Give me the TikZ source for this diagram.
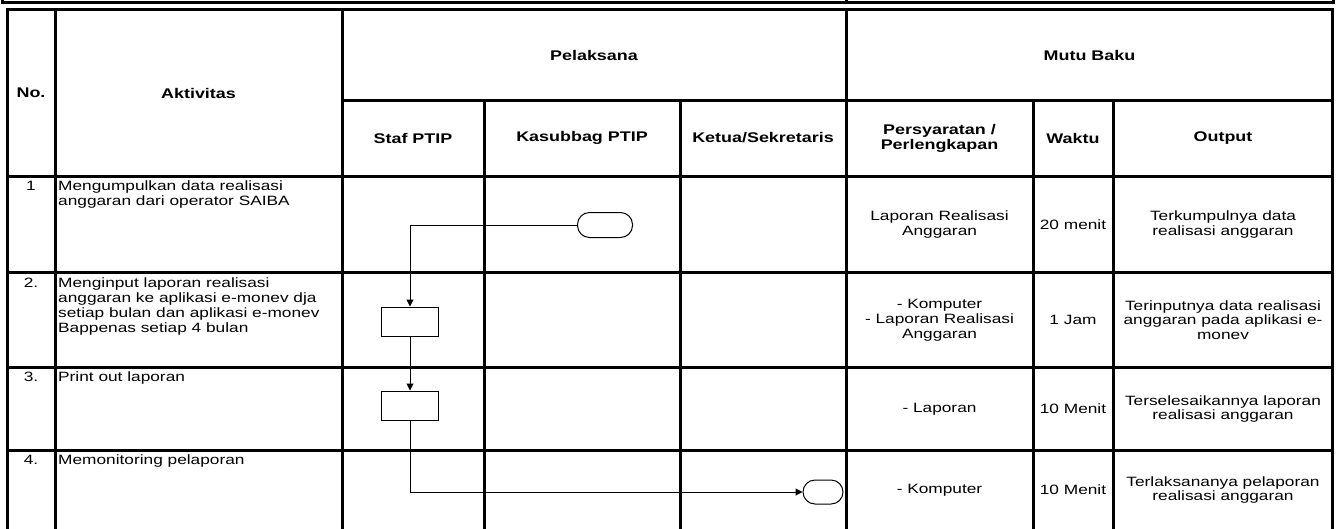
\documentclass[tikz,border=0pt]{standalone}
\usepackage{fontspec}
\setmainfont[FakeStretch=1.28]{Liberation Sans}
\usetikzlibrary{arrows.meta}
\tikzset{
  grid/.style={line width=3pt, line cap=rect},
  body/.style={font=\fontsize{13.5}{14.8}\selectfont, inner sep=0pt},
  hdr/.style={font=\bfseries\fontsize{14}{15}\selectfont, inner sep=0pt, align=center},
  cell/.style={body, align=center},
  act/.style={body, align=left, anchor=north west},
  num/.style={body, anchor=north},
  proc/.style={draw, line width=1pt, minimum width=57pt, minimum height=29pt, inner sep=0pt},
  term/.style={draw, line width=1pt, rounded corners=12pt, inner sep=0pt},
  flow/.style={line width=1pt},
  arr/.style={flow, -{Triangle[length=7pt,width=7pt]}}
}
\begin{document}
\begin{tikzpicture}[x=1pt,y=-1pt]
\useasboundingbox (0,0) rectangle (1343,528);
% upper partial table
\draw[grid] (2,0) -- (2,2.5) -- (1333,2.5) -- (1333,0);
\draw[grid] (846,0) -- (846,2.5);
% main table grid
\draw[grid] (7,9.5) -- (1332.5,9.5);
\draw[grid] (342,100) -- (1332.5,100);
\foreach \yy in {176.5,272,367.5,450.5} \draw[grid] (7,\yy) -- (1332.5,\yy);
\foreach \xx in {7,55,342,846,1332.5} \draw[grid] (\xx,9.5) -- (\xx,530);
\foreach \xx in {484,680,1033,1113} \draw[grid] (\xx,100) -- (\xx,530);
% headers
\node[hdr] (hno) at (31,93) {No.};
\node[hdr] (hakt) at (198.5,93) {Aktivitas};
\node[hdr] (hpel) at (594,55) {Pelaksana};
\node[hdr] (hmut) at (1089.5,55) {Mutu Baku};
\node[hdr] (hstaf) at (413,138) {Staf PTIP};
\node[hdr] (hkas) at (582,138) {Kasubbag PTIP};
\node[hdr] (hket) at (763,138) {Ketua/Sekretaris};
\node[hdr] (hper) at (939.5,138) {Persyaratan /\\Perlengkapan};
\node[hdr] (hwak) at (1073,138) {Waktu};
\node[hdr] (hout) at (1223,138) {Output};
% row 1
\node[num] (n1) at (31,181) {1};
\node[act] (a1) at (58,181) {Mengumpulkan data realisasi\\anggaran dari operator SAIBA};
\node[cell] (p1) at (939.5,224.5) {Laporan Realisasi\\Anggaran};
\node[cell] (w1) at (1073,224.5) {20 menit};
\node[cell] (o1) at (1223,224.5) {Terkumpulnya data\\realisasi anggaran};
% row 2
\node[num] (n2) at (31,278) {2.};
\node[act] (a2) at (58,278) {Menginput laporan realisasi\\anggaran ke aplikasi e-monev dja\\setiap bulan dan aplikasi e-monev\\Bappenas setiap 4 bulan};
\node[cell] (p2) at (939.5,320) {- Komputer\\- Laporan Realisasi\\Anggaran};
\node[cell] (w2) at (1073,320) {1 Jam};
\node[cell] (o2) at (1223,320) {Terinputnya data realisasi\\anggaran pada aplikasi e-\\monev};
% row 3
\node[num] (n3) at (31,371.5) {3.};
\node[act] (a3) at (58,371.5) {Print out laporan};
\node[cell] (p3) at (939.5,409) {- Laporan};
\node[cell] (w3) at (1073,409) {10 Menit};
\node[cell] (o3) at (1223,409) {Terselesaikannya laporan\\realisasi anggaran};
% row 4
\node[num] (n4) at (31,455) {4.};
\node[act] (a4) at (58,455) {Memonitoring pelaporan};
\node[cell] (p4) at (939.5,490) {- Komputer};
\node[cell] (w4) at (1073,490) {10 Menit};
\node[cell] (o4) at (1223,490) {Terlaksananya pelaporan\\realisasi anggaran};
% flowchart
\node[term, minimum width=55pt, minimum height=25pt] (t1) at (605,225) {};
\node[proc] (b2) at (410,321.5) {};
\node[proc] (b3) at (410,405.5) {};
\node[term, minimum width=40pt, minimum height=24pt] (t2) at (823,492) {};
\draw[arr] (t1.west) -| (b2.north);
\draw[arr] (b2.south) -- (b3.north);
\draw[arr] (b3.south) |- (t2.west);
\end{tikzpicture}
\end{document}
